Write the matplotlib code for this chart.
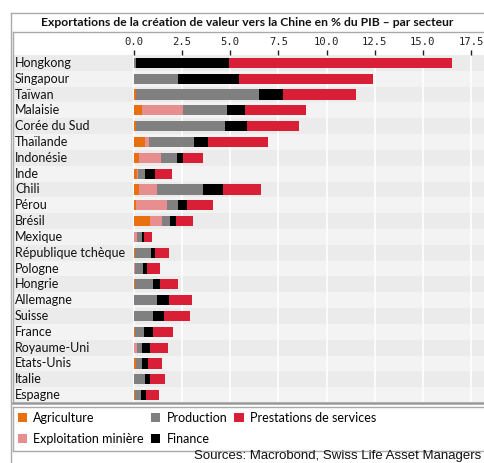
import matplotlib
matplotlib.use("Agg")
import matplotlib.pyplot as plt
from matplotlib.patches import Patch
from matplotlib.lines import Line2D
import numpy as np

# data
countries = ["Hongkong", "Singapour", "Taïwan", "Malaisie", "Corée du Sud", "Thaïlande",
             "Indonésie", "Inde", "Chili", "Pérou", "Brésil", "Mexique",
             "République tchèque", "Pologne", "Hongrie", "Allemagne", "Suisse",
             "France", "Royaume-Uni", "Etats-Unis", "Italie", "Espagne"]
agriculture = [0.00, 0.00, 0.09, 0.43, 0.09, 0.59, 0.26, 0.16, 0.26, 0.10, 0.84, 0.00,
               0.04, 0.00, 0.04, 0.02, 0.00, 0.04, 0.00, 0.09, 0.00, 0.05]
mining = [0.00, 0.00, 0.00, 2.14, 0.00, 0.19, 1.12, 0.05, 0.91, 1.61, 0.59, 0.16,
          0.00, 0.05, 0.00, 0.00, 0.00, 0.00, 0.16, 0.00, 0.00, 0.00]
production = [0.09, 2.26, 6.39, 2.28, 4.62, 2.31, 0.86, 0.34, 2.40, 0.60, 0.42, 0.25,
              0.82, 0.42, 0.94, 1.20, 0.97, 0.48, 0.25, 0.32, 0.57, 0.31]
finance = [4.84, 3.19, 1.25, 0.93, 1.17, 0.75, 0.29, 0.55, 1.03, 0.43, 0.32, 0.11,
           0.24, 0.19, 0.38, 0.59, 0.57, 0.46, 0.43, 0.31, 0.27, 0.28]
services = [11.56, 6.98, 3.82, 3.15, 2.69, 3.13, 1.04, 0.85, 1.99, 1.35, 0.90, 0.43,
            0.73, 0.70, 0.90, 1.21, 1.37, 1.02, 0.92, 0.71, 0.75, 0.67]
xticks = [0.0, 2.5, 5.0, 7.5, 10.0, 12.5, 15.0, 17.5]

series = [("Agriculture", agriculture, "#E8700E"),
          ("Exploitation minière", mining, "#E88E8E"),
          ("Production", production, "#808080"),
          ("Finance", finance, "#000000"),
          ("Prestations de services", services, "#D91F36")]

W, H = 484, 463
fig = plt.figure(figsize=(W / 100, H / 100), dpi=100)


def fx(x):
    return x / W


def fy(y):
    return 1 - y / H


# pixel geometry of the data area
px0 = 134.0       # x pixel of value 0
ppu = 19.26       # pixels per unit
left_px, right_px = 13, 500
top_px, bot_px = 55, 403

ax = fig.add_axes([fx(left_px), fy(bot_px), (right_px - left_px) / W, (bot_px - top_px) / H])
ax.set_xlim((left_px - px0) / ppu, (right_px - px0) / ppu)
n = len(countries)
ax.set_ylim(n - 0.5, -0.5)

# alternating row backgrounds
for i in range(n):
    ax.axhspan(i - 0.5, i + 0.5, color="#EBEBEB" if i % 2 == 0 else "#F3F3F3", lw=0, zorder=0)
for t in xticks:
    ax.axvline(t, color="white", lw=1.2, zorder=1)

y = np.arange(n)
left = np.zeros(n)
for name, vals, col in series:
    ax.barh(y, vals, left=left, height=0.64, color=col, lw=0, zorder=2)
    left = left + np.array(vals)

for i, c in enumerate(countries):
    ax.text((15 - px0) / ppu, i, c, va="center", ha="left", fontsize=9.0,
            family="Lato", color="#111111", zorder=3)

ax.xaxis.tick_top()
ax.set_xticks(xticks)
ax.set_xticklabels([f"{t:.1f}" for t in xticks], family="DejaVu Sans Mono", fontsize=7.6,
                   color="#222222")
ax.tick_params(axis="x", length=3.5, width=1, pad=2, colors="#222222")
ax.set_yticks([])
for s in ax.spines.values():
    s.set_visible(False)


# frames
def hline(y0, x0, x1, color="#AAAAAA", lw=1.0):
    fig.add_artist(Line2D([fx(x0), fx(x1)], [fy(y0), fy(y0)], color=color, lw=lw))


def vline(x0, y0, y1, color="#AAAAAA", lw=1.0):
    fig.add_artist(Line2D([fx(x0), fx(x0)], [fy(y0), fy(y1)], color=color, lw=lw))


hline(13, 11, W + 5)
vline(11, 13, H + 5)
hline(32, 13, W + 5)
vline(13, 32, 403)
hline(403, 13, W + 5, color="#999999", lw=1.8)
hline(406.5, 13, W + 5)
hline(451, 13, W + 5)
vline(13, 406.5, 451)

fig.text(fx(247), fy(22), "Exportations de la création de valeur vers la Chine en % du PIB – par secteur",
         ha="center", va="center", fontsize=8.7, fontweight="bold", family="Lato", color="#111111")

handles = [Patch(facecolor=col, edgecolor="none", label=name) for name, vals, col in series]
fig.legend(handles=handles, ncol=3, loc="upper left", bbox_to_anchor=(fx(14), fy(408)),
           frameon=False, prop={"family": "Lato", "size": 9.0},
           handlelength=0.75, handleheight=0.75, handletextpad=0.5, columnspacing=0.55,
           labelspacing=0.75, borderaxespad=0, borderpad=0.3)

fig.text(fx(481), fy(456), "Sources: Macrobond, Swiss Life Asset Managers", ha="right",
         va="center", fontsize=9.5, family="Liberation Sans", color="#111111")

fig.savefig("out.png", dpi=100)
